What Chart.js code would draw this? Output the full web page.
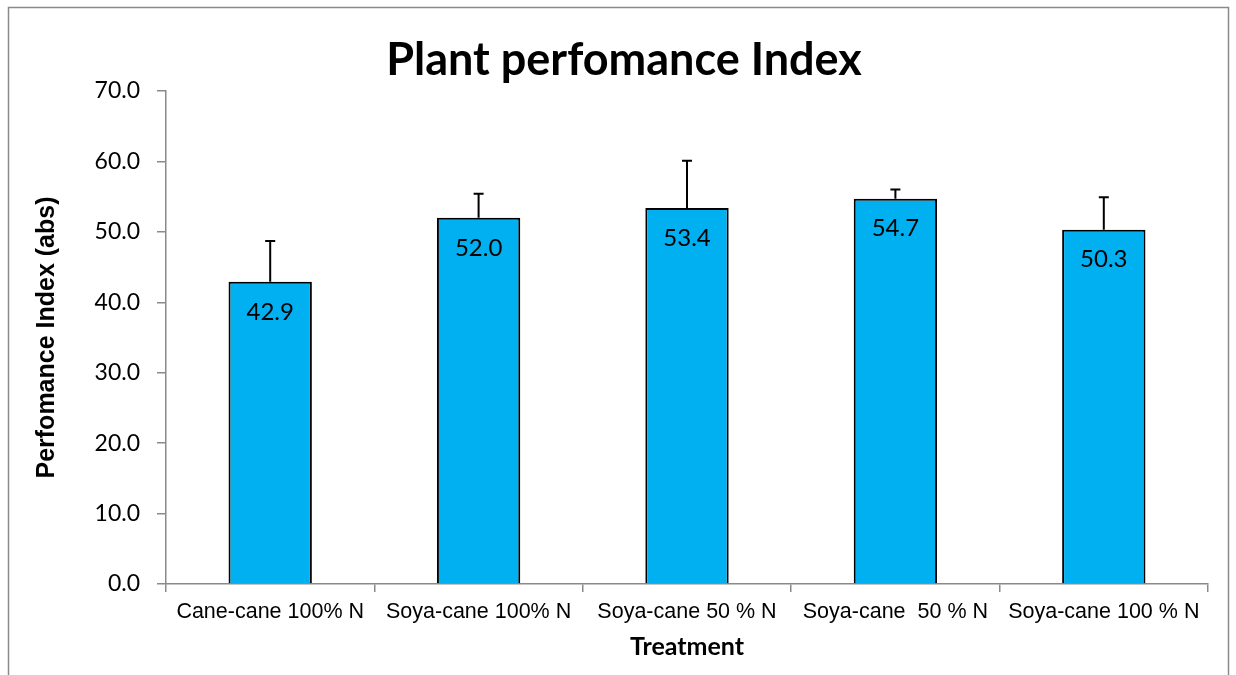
<!DOCTYPE html>
<html>
<head>
<meta charset="utf-8">
<script src="https://cdn.jsdelivr.net/npm/chart.js@4.4.1/dist/chart.umd.min.js"></script>
<style>
html, body { margin: 0; padding: 0; background: #fff; }
canvas { display: block; }
</style>
</head>
<body>
<canvas id="GraficaPI" width="1236" height="675"></canvas>
<script>
// datos
const tratamientos = ['Cane-cane 100% N', 'Soya-cane 100% N', 'Soya-cane 50 % N', 'Soya-cane  50 % N', 'Soya-cane 100 % N'];
const indices = [42.9, 52.0, 53.4, 54.7, 50.3];
const errores = [5.8, 3.4, 6.7, 1.3, 4.6];
const ticksY = [0, 10, 20, 30, 40, 50, 60, 70];
const titulo = 'Plant perfomance Index';

const gris = '#8a8a8a';

// marco exterior gris y titulo
const marco = {
    id: 'marco',
    beforeDraw(chart) {
        const ctx = chart.ctx;
        ctx.save();
        ctx.fillStyle = '#fff';
        ctx.fillRect(0, 0, chart.width, chart.height);
        ctx.strokeStyle = gris;
        ctx.lineWidth = 1.5;
        ctx.strokeRect(8.5, 7.5, 1220, 720);
        ctx.fillStyle = '#000';
        ctx.font = 'bold 45px Lato';
        ctx.textAlign = 'center';
        ctx.textBaseline = 'middle';
        ctx.fillText(titulo, 624, 60);
        ctx.restore();
    }
};

// barras de error (solo hacia arriba) y etiquetas de valor
const errorYEtiquetas = {
    id: 'errorYEtiquetas',
    afterDatasetsDraw(chart) {
        const ctx = chart.ctx;
        const escalaY = chart.scales.y;
        const meta = chart.getDatasetMeta(0);
        ctx.save();
        meta.data.forEach(function(barra, i) {
            const yArriba = escalaY.getPixelForValue(indices[i] + errores[i]);
            ctx.strokeStyle = '#000';
            ctx.lineWidth = 2;
            ctx.beginPath();
            ctx.moveTo(barra.x, barra.y);
            ctx.lineTo(barra.x, yArriba);
            ctx.moveTo(barra.x - 5, yArriba);
            ctx.lineTo(barra.x + 5, yArriba);
            ctx.stroke();

            ctx.fillStyle = '#000';
            ctx.font = '24px Lato';
            ctx.textAlign = 'center';
            ctx.textBaseline = 'middle';
            ctx.fillText(indices[i].toFixed(1), barra.x, barra.y + 30);
        });
        ctx.restore();
    }
};

const ctx = document.getElementById('GraficaPI').getContext('2d');
const miGrafica = new Chart(ctx, {
    type: 'bar',
    data: {
        labels: tratamientos,
        datasets: [{
            data: indices,
            backgroundColor: '#00b0f0',
            borderColor: '#000',
            borderWidth: 2,
            categoryPercentage: 1.0,
            barPercentage: 0.4
        }]
    },
    options: {
        responsive: false,
        devicePixelRatio: 1,
        animation: false,
        layout: {
            padding: { left: 0, right: 28, top: 91, bottom: 0 }
        },
        plugins: {
            legend: { display: false },
            tooltip: { enabled: false },
            title: { display: false }
        },
        scales: {
            x: {
                afterFit: function(scale) { scale.height = 91; },
                grid: {
                    display: true,
                    drawOnChartArea: false,
                    offset: true,
                    tickLength: 8,
                    color: gris,
                    lineWidth: 1.5
                },
                border: { color: gris, width: 1.5 },
                ticks: {
                    color: '#000',
                    padding: 7,
                    maxRotation: 0,
                    autoSkip: false,
                    font: { family: 'Liberation Sans', size: 21.5 }
                },
                title: {
                    display: true,
                    text: 'Treatment',
                    color: '#000',
                    font: { family: 'Lato', size: 25, weight: 'bold', lineHeight: 1.2 },
                    padding: { top: 0, bottom: 13 }
                }
            },
            y: {
                min: 0,
                max: 70,
                afterFit: function(scale) { scale.width = 166; },
                afterBuildTicks: function(scale) {
                    scale.ticks = ticksY.map(function(v) { return { value: v }; });
                },
                grid: {
                    display: true,
                    drawOnChartArea: false,
                    tickLength: 9,
                    color: gris,
                    lineWidth: 1.5
                },
                border: { color: gris, width: 1.5 },
                ticks: {
                    color: '#000',
                    padding: 17,
                    font: { family: 'Lato', size: 23 },
                    callback: function(v) { return Number(v).toFixed(1); }
                },
                title: {
                    display: true,
                    text: 'Perfomance Index (abs)',
                    color: '#000',
                    font: { family: 'Liberation Sans', size: 25, weight: 'bold', lineHeight: 1.2 },
                    padding: { top: 32, bottom: 0 }
                }
            }
        }
    },
    plugins: [marco, errorYEtiquetas]
});
</script>
</body>
</html>
